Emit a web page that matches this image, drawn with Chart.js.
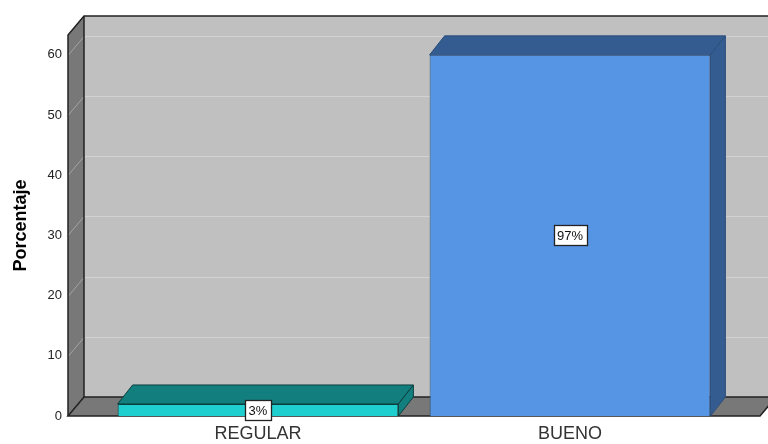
<!DOCTYPE html>
<html>
<head>
<meta charset="utf-8">
<script src="https://cdn.jsdelivr.net/npm/chart.js@4"></script>
<style>
  html, body { margin: 0; padding: 0; background: #fff; }
  #wrap { width: 768px; height: 444px; position: relative; }
</style>
</head>
<body>
<div id="wrap"><canvas id="chart"></canvas></div>
<script>
const categories = ["REGULAR", "BUENO"];
const counts = [2, 60];
const yMax = 63.3;
const yStep = 10;
const axisTitle = "Porcentaje";

const total = counts.reduce((a, b) => a + b, 0);
const pctLabels = counts.map((v) => Math.round((v / total) * 100) + "%");

const frontColors = ["#1fcfcf", "#5595e4"];
const shadeColors = ["#127f7e", "#355c90"];
const edgeColors = ["#0d3f3f", "#2b4f7d"];

// depth of the box and of the bars
const wallDx = 16, wallDy = 19;
const barDx = 15, barDy = 19;
const sideGap = 34;

function poly(ctx, pts, fill, stroke) {
  ctx.beginPath();
  ctx.moveTo(pts[0][0], pts[0][1]);
  for (let i = 1; i < pts.length; i++) ctx.lineTo(pts[i][0], pts[i][1]);
  ctx.closePath();
  if (fill) { ctx.fillStyle = fill; ctx.fill(); }
  if (stroke) { ctx.strokeStyle = stroke; ctx.lineWidth = 1; ctx.stroke(); }
}

const boxPlugin = {
  id: "box3d",
  beforeDatasetsDraw(chart) {
    const { ctx, chartArea, scales } = chart;
    const y = scales.y;
    const x0 = chartArea.left - sideGap;
    const x1 = chartArea.right + sideGap;
    const top = chartArea.top;
    const base = y.getPixelForValue(0);
    ctx.save();
    // back wall
    poly(ctx, [[x0 + wallDx, top - wallDy], [x1 + wallDx, top - wallDy],
               [x1 + wallDx, base - wallDy], [x0 + wallDx, base - wallDy]], "#c0c0c0");
    // left wall
    poly(ctx, [[x0, top], [x0 + wallDx, top - wallDy], [x0 + wallDx, base - wallDy], [x0, base]], "#787878");
    // grid lines
    y.ticks.forEach((t) => {
      if (t.value === 0) return;
      const py = Math.round(y.getPixelForValue(t.value)) + 0.5;
      ctx.strokeStyle = "#d2d2d2";
      ctx.lineWidth = 1;
      ctx.beginPath();
      ctx.moveTo(x0 + wallDx, py - wallDy);
      ctx.lineTo(x1 + wallDx, py - wallDy);
      ctx.stroke();
      ctx.strokeStyle = "#a4a4a4";
      ctx.beginPath();
      ctx.moveTo(x0, py);
      ctx.lineTo(x0 + wallDx, py - wallDy);
      ctx.stroke();
    });
    // floor
    poly(ctx, [[x0, base], [x1, base], [x1 + wallDx, base - wallDy], [x0 + wallDx, base - wallDy]], "#787878");
    // outlines
    ctx.strokeStyle = "#222";
    ctx.lineWidth = 1.5;
    ctx.beginPath();
    ctx.moveTo(x0, base);
    ctx.lineTo(x0, top);
    ctx.lineTo(x0 + wallDx, top - wallDy);
    ctx.lineTo(x1 + wallDx, top - wallDy);
    ctx.stroke();
    ctx.beginPath();
    ctx.moveTo(x0 + wallDx, top - wallDy);
    ctx.lineTo(x0 + wallDx, base - wallDy);
    ctx.lineTo(x1 + wallDx, base - wallDy);
    ctx.stroke();
    ctx.beginPath();
    ctx.moveTo(x0 + wallDx, base - wallDy);
    ctx.lineTo(x0, base);
    ctx.lineTo(x1, base);
    ctx.lineTo(x1 + wallDx, base - wallDy);
    ctx.stroke();
    ctx.restore();
  },
  afterDatasetsDraw(chart) {
    const { ctx } = chart;
    const meta = chart.getDatasetMeta(0);
    ctx.save();
    meta.data.forEach((bar, i) => {
      const { x, y, base, width } = bar.getProps(["x", "y", "base", "width"], true);
      const l = x - width / 2, r = x + width / 2;
      // top face
      poly(ctx, [[l, y], [l + barDx, y - barDy], [r + barDx, y - barDy], [r, y]], shadeColors[i], edgeColors[i]);
      // side face
      poly(ctx, [[r, y], [r + barDx, y - barDy], [r + barDx, base - barDy], [r, base]], shadeColors[i], edgeColors[i]);
    });
    // value boxes
    ctx.font = "13px 'Liberation Sans', Arial, sans-serif";
    ctx.textAlign = "center";
    ctx.textBaseline = "middle";
    meta.data.forEach((bar, i) => {
      const { x, y, base } = bar.getProps(["x", "y", "base"], true);
      const cy = (y + base) / 2;
      const w = Math.round(ctx.measureText(pctLabels[i]).width) + 7;
      const h = 20;
      const bx = Math.round(x - w / 2) + 0.5, by = Math.round(cy - h / 2) + 0.5;
      ctx.fillStyle = "#fff";
      ctx.fillRect(bx, by, w, h);
      ctx.strokeStyle = "#222";
      ctx.lineWidth = 1.3;
      ctx.strokeRect(bx, by, w, h);
      ctx.fillStyle = "#111";
      ctx.fillText(pctLabels[i], x, cy + 1);
    });
    ctx.restore();
  },
};

new Chart(document.getElementById("chart"), {
  type: "bar",
  data: {
    labels: categories,
    datasets: [{
      data: counts,
      backgroundColor: frontColors,
      borderColor: edgeColors,
      borderWidth: 1,
      categoryPercentage: 1,
      barPercentage: 0.9,
    }],
  },
  options: {
    responsive: true,
    maintainAspectRatio: false,
    animation: false,
    layout: { padding: { top: 35, right: 42, left: 0, bottom: 0 } },
    plugins: { legend: { display: false }, tooltip: { enabled: false } },
    scales: {
      x: {
        grid: { display: false, drawTicks: false },
        border: { display: false },
        ticks: { color: "#333", padding: 7, font: { family: "'Liberation Sans', Arial, sans-serif", size: 18 } },
        afterFit(scale) { scale.height = 28; },
      },
      y: {
        min: 0,
        max: yMax,
        grid: { display: false, drawTicks: false },
        border: { display: false },
        ticks: {
          stepSize: yStep,
          includeBounds: false,
          padding: sideGap + 6,
          color: "#222",
          font: { family: "'Liberation Sans', Arial, sans-serif", size: 13 },
        },
        title: {
          display: true,
          text: axisTitle,
          color: "#000",
          padding: { top: 10, bottom: 0 },
          font: { family: "'Liberation Sans', Arial, sans-serif", size: 18, weight: "bold" },
        },
        afterFit(scale) {
          // the wide tick padding is only meant horizontally
          scale.width = 102;
          scale.paddingTop = 0;
          scale.paddingBottom = 0;
        },
      },
    },
  },
  plugins: [boxPlugin],
});
</script>
</body>
</html>
